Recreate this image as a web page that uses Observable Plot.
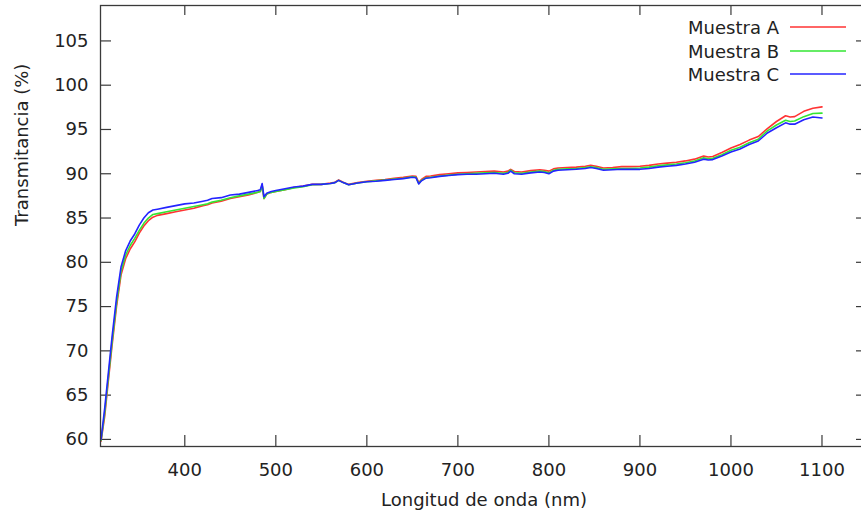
<!DOCTYPE html>
<html>
<head>
<meta charset="utf-8">
<script src="https://cdn.jsdelivr.net/npm/d3@7"></script>
<script src="https://cdn.jsdelivr.net/npm/@observablehq/plot@0.6"></script>
<style>
  html, body { margin: 0; padding: 0; background: #fff; overflow: hidden; }
  #wrap { position: relative; width: 861px; height: 518px; overflow: hidden; background: #fff; }
  #legend { position: absolute; left: 0; top: 0; font-family: "DejaVu Sans", sans-serif; font-size: 18px; color: #222; }
  .lg-text { position: absolute; left: 0; width: 779px; text-align: right; height: 22px; line-height: 22px; white-space: nowrap; }
  .lg-line { position: absolute; left: 790px; width: 56px; height: 4px; line-height: 0; }
  .lg-line svg { display: block; }
</style>
</head>
<body>
<div id="wrap"><div id="legend"></div></div>
<script>
const wavelength = [308, 312, 316, 320, 325, 330, 335, 340, 345, 350, 355, 360, 365, 370, 380, 390, 400, 410, 420, 425, 430, 440, 450, 460, 470, 480, 483, 485, 487, 490, 495, 500, 510, 520, 530, 540, 550, 560, 565, 569, 574, 580, 590, 600, 610, 620, 630, 640, 650, 654, 657, 660, 665, 670, 680, 690, 700, 710, 720, 730, 740, 750, 755, 758, 762, 770, 780, 790, 795, 800, 805, 810, 820, 830, 840, 846, 852, 860, 870, 880, 890, 900, 910, 920, 930, 940, 950, 960, 970, 975, 980, 990, 1000, 1010, 1020, 1030, 1040, 1050, 1060, 1065, 1070, 1080, 1090, 1100];

const muestraA = [59.8, 62.6, 66.6, 70.5, 75.0, 78.6, 80.4, 81.5, 82.3, 83.3, 84.1, 84.7, 85.1, 85.3, 85.5, 85.7, 85.9, 86.1, 86.4, 86.5, 86.7, 86.9, 87.2, 87.4, 87.6, 87.9, 88.0, 88.7, 87.2, 87.7, 87.9, 88.0, 88.2, 88.45, 88.6, 88.8, 88.8, 88.95, 89.05, 89.3, 89.05, 88.8, 89.0, 89.15, 89.25, 89.35, 89.5, 89.6, 89.75, 89.7, 89.0, 89.35, 89.7, 89.75, 89.9, 90.0, 90.1, 90.15, 90.2, 90.25, 90.3, 90.2, 90.3, 90.5, 90.25, 90.2, 90.35, 90.45, 90.4, 90.3, 90.55, 90.65, 90.7, 90.75, 90.85, 90.95, 90.85, 90.65, 90.7, 90.8, 90.8, 90.85, 90.95, 91.1, 91.2, 91.3, 91.45, 91.65, 92.0, 91.9, 91.95, 92.4, 92.9, 93.3, 93.8, 94.2, 95.1, 95.9, 96.55, 96.4, 96.45, 97.05, 97.4, 97.55];

const muestraB = [59.9, 63.0, 67.0, 70.9, 75.4, 79.0, 80.8, 81.9, 82.7, 83.6, 84.4, 85.0, 85.4, 85.5, 85.7, 85.9, 86.1, 86.3, 86.5, 86.6, 86.8, 87.0, 87.3, 87.5, 87.7, 87.9, 88.0, 88.7, 87.2, 87.7, 87.9, 88.0, 88.2, 88.4, 88.55, 88.75, 88.8, 88.9, 89.0, 89.25, 89.0, 88.75, 88.95, 89.1, 89.2, 89.3, 89.4, 89.5, 89.65, 89.6, 88.9, 89.25, 89.55, 89.6, 89.75, 89.85, 89.95, 90.0, 90.05, 90.1, 90.15, 90.05, 90.15, 90.4, 90.1, 90.05, 90.2, 90.3, 90.25, 90.1, 90.4, 90.5, 90.55, 90.6, 90.7, 90.8, 90.7, 90.5, 90.55, 90.6, 90.6, 90.65, 90.75, 90.9, 91.0, 91.1, 91.25, 91.45, 91.8, 91.7, 91.75, 92.15, 92.65, 93.0, 93.5, 93.9, 94.85, 95.5, 96.05, 95.9, 95.95, 96.45, 96.8, 96.85];

const muestraC = [60.0, 63.5, 67.5, 71.5, 76.0, 79.5, 81.3, 82.4, 83.2, 84.2, 85.0, 85.6, 85.9, 86.0, 86.2, 86.4, 86.6, 86.7, 86.9, 87.0, 87.2, 87.3, 87.6, 87.7, 87.9, 88.1, 88.2, 88.9, 87.4, 87.8, 88.0, 88.1, 88.3, 88.5, 88.6, 88.8, 88.8, 88.9, 89.0, 89.25, 89.0, 88.75, 88.95, 89.1, 89.15, 89.25, 89.35, 89.45, 89.6, 89.55, 88.85, 89.2, 89.5, 89.55, 89.7, 89.8, 89.9, 89.95, 89.95, 90.0, 90.05, 89.95, 90.05, 90.3, 90.0, 89.95, 90.1, 90.2, 90.15, 90.0, 90.3, 90.4, 90.45, 90.5, 90.6, 90.7, 90.6, 90.4, 90.45, 90.5, 90.5, 90.5, 90.6, 90.75, 90.85, 90.95, 91.1, 91.3, 91.65, 91.55, 91.6, 92.0, 92.45, 92.8, 93.3, 93.7, 94.6, 95.2, 95.75, 95.6, 95.6, 96.1, 96.4, 96.3];

const seriesNames = ["Muestra A", "Muestra B", "Muestra C"];
const seriesColors = ["#ff3333", "#33e633", "#2424ff"];
const xTicks = [400, 500, 600, 700, 800, 900, 1000, 1100];
const yTicks = [60, 65, 70, 75, 80, 85, 90, 95, 100, 105];
const xLabel = "Longitud de onda (nm)";
const yLabel = "Transmitancia (%)";

const rows = [];
[muestraA, muestraB, muestraC].forEach((vals, i) => {
  vals.forEach((v, j) => rows.push({series: seriesNames[i], nm: wavelength[j], T: v}));
});

const W = 868, H = 518, mL = 100, mR = 1, mT = 5, mB = 72;
const frameW = W - mL - mR, frameH = H - mT - mB;
const tickLen = 11;
const axisColor = "#3a3a3a";
const fmt = d => String(d);

const chart = Plot.plot({
  width: W,
  height: H,
  marginLeft: mL,
  marginRight: mR,
  marginTop: mT,
  marginBottom: mB,
  style: {fontFamily: "'DejaVu Sans', sans-serif", fontSize: "18px", color: "#222", background: "white", maxWidth: "none", overflow: "visible"},
  x: {domain: [307.4, 1150]},
  y: {domain: [59.2, 109]},
  color: {domain: seriesNames, range: seriesColors},
  marks: [
    Plot.axisX({anchor: "bottom", ticks: xTicks, tickSize: 0, tickPadding: 17, tickFormat: fmt, label: null, fill: "#222", fontSize: 18}),
    Plot.axisY({anchor: "left", ticks: yTicks, tickSize: 0, tickPadding: 12, tickFormat: fmt, label: null, fill: "#222", fontSize: 18}),
    // inward ticks on all four sides
    Plot.tickX(xTicks, {x: d => d, insetTop: frameH - tickLen, stroke: axisColor, strokeWidth: 1.2}),
    Plot.tickX(xTicks, {x: d => d, insetBottom: frameH - tickLen + 1, stroke: axisColor, strokeWidth: 1.2}),
    Plot.tickY(yTicks, {y: d => d, insetRight: frameW - tickLen, stroke: axisColor, strokeWidth: 1.2}),
    Plot.tickY(yTicks, {y: d => d, insetLeft: frameW - tickLen, stroke: axisColor, strokeWidth: 1.2}),
    Plot.line(rows, {x: "nm", y: "T", z: "series", stroke: "series", strokeWidth: 1.6}),
    Plot.frame({stroke: axisColor, strokeWidth: 1.3}),
    Plot.text([yLabel], {frameAnchor: "left", dx: -78, rotate: -90, fontSize: 18, fill: "#222"}),
    Plot.text([xLabel], {frameAnchor: "bottom", dy: 59, fontSize: 18, fill: "#222"})
  ]
});
const wrap = document.getElementById("wrap");
wrap.insertBefore(chart, wrap.firstChild);

// legend
const legend = document.getElementById("legend");
const rowY = [28, 51.5, 75];
const lineY = [27, 50.5, 74];
seriesNames.forEach((name, i) => {
  const t = document.createElement("div");
  t.className = "lg-text";
  t.style.top = (rowY[i] - 11) + "px";
  t.textContent = name;
  legend.appendChild(t);
  const l = document.createElement("div");
  l.className = "lg-line";
  l.style.top = (lineY[i] - 2) + "px";
  l.innerHTML = `<svg width="56" height="4"><line x1="0" x2="56" y1="2" y2="2" stroke="${seriesColors[i]}" stroke-width="1.6"/></svg>`;
  legend.appendChild(l);
});
</script>
</body>
</html>
